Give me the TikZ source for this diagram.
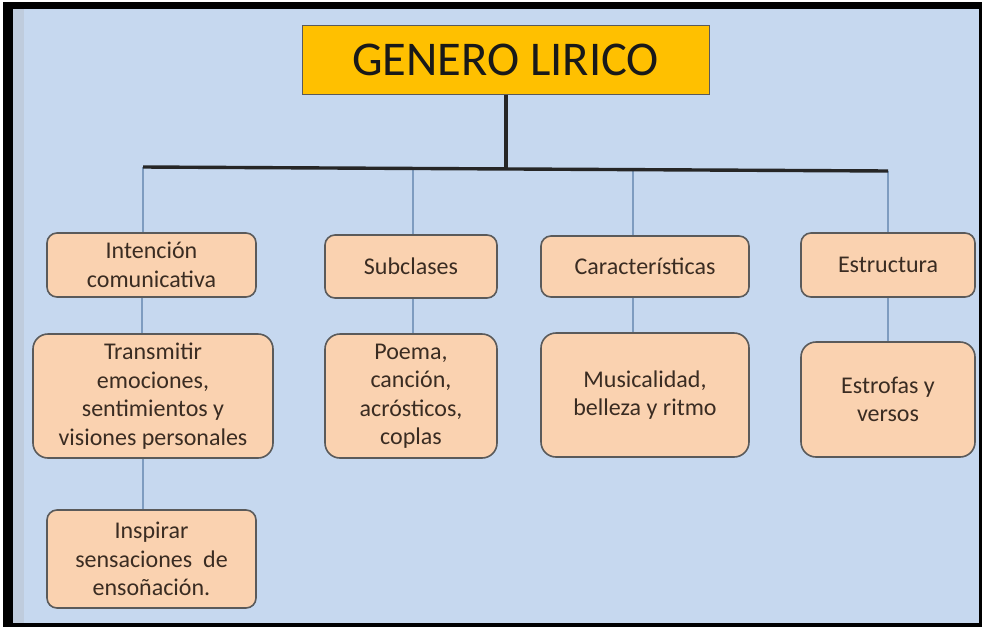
\documentclass[tikz,border=0pt]{standalone}
\usepackage{fontspec}
\setmainfont{Carlito}
\definecolor{bgblue}{HTML}{C6D8EF}
\definecolor{stripblue}{HTML}{BFCCDD}
\definecolor{peach}{HTML}{FAD2B0}
\definecolor{gold}{HTML}{FFC000}
\definecolor{boxline}{HTML}{5A5A5A}
\definecolor{connblue}{HTML}{7E9CC0}
\definecolor{txt}{HTML}{3A2C22}
\tikzset{
  titlebox/.style={draw=boxline, line width=1pt, fill=gold, minimum width=407pt, minimum height=69pt, inner sep=0pt, font=\fontsize{48.5}{50}\selectfont, text=black!90},
  catbox/.style={draw=boxline, line width=1.6pt, fill=peach, rounded corners=10pt, inner sep=0pt, align=center, text=txt, font=\fontsize{24}{28.5}\selectfont},
  bigbox/.style={catbox, rounded corners=15pt},
  conn/.style={draw=connblue, line width=1.2pt},
  trunk/.style={draw=black!85, line width=3.4pt}
}
\begin{document}
\begin{tikzpicture}[x=1pt,y=-1pt]
\useasboundingbox (0,0) rectangle (982,627);
\fill[white] (0,0) rectangle (982,627);
\fill[black] (3,2) rectangle (982,627);
\fill[bgblue] (13,9) rectangle (979,623);
\fill[stripblue] (13,9) rectangle (24,623);

\node[titlebox] (title) at (505.5,59.5) {GENERO LIRICO};

\node[catbox, minimum width=209pt, minimum height=64pt] (int) at (151.5,265) {Intención\\comunicativa};
\node[catbox, minimum width=172pt, minimum height=63pt] (sub) at (411,266.5) {Subclases};
\node[catbox, minimum width=208pt, minimum height=61pt] (car) at (645,266.5) {Características};
\node[catbox, minimum width=174pt, minimum height=64pt] (est) at (888,265) {Estructura};

\node[bigbox, minimum width=240pt, minimum height=124pt] (tra) at (153,396) {Transmitir\\emociones,\\sentimientos y\\visiones personales};
\node[bigbox, minimum width=172pt, minimum height=124pt] (poe) at (411,396) {Poema,\\canción,\\acrósticos,\\coplas};
\node[bigbox, minimum width=208pt, minimum height=124pt] (mus) at (645,395) {Musicalidad,\\belleza y ritmo};
\node[bigbox, minimum width=174pt, minimum height=115pt] (esf) at (888,399.5) {Estrofas y\\versos};

\node[catbox, minimum width=209pt, minimum height=98pt] (ins) at (151.5,559) {Inspirar\\sensaciones\ \ de\\ensoñación.};

\coordinate (bl) at (143,167);
\coordinate (b2) at (413,168.5);
\coordinate (b3) at (633,170);
\coordinate (br) at (888,171);
\coordinate (bm) at (506,168.5);

\draw[conn] (bl) -- (bl |- int.north);
\draw[conn] (b2) -- (b2 |- sub.north);
\draw[conn] (b3) -- (b3 |- car.north);
\draw[conn] (br) -- (br |- est.north);

\draw[conn] ([xshift=-9.5pt]int.south) -- ([xshift=-9.5pt]int.south |- tra.north);
\draw[conn] ([xshift=2pt]sub.south) -- ([xshift=2pt]sub.south |- poe.north);
\draw[conn] ([xshift=-12pt]car.south) -- ([xshift=-12pt]car.south |- mus.north);
\draw[conn] (est.south) -- (esf.north);
\draw[conn] (tra.south -| bl) -- (bl |- ins.north);

\draw[trunk] (title.south -| bm) -- (bm);
\draw[trunk] (bl) -- (br);
\end{tikzpicture}
\end{document}
